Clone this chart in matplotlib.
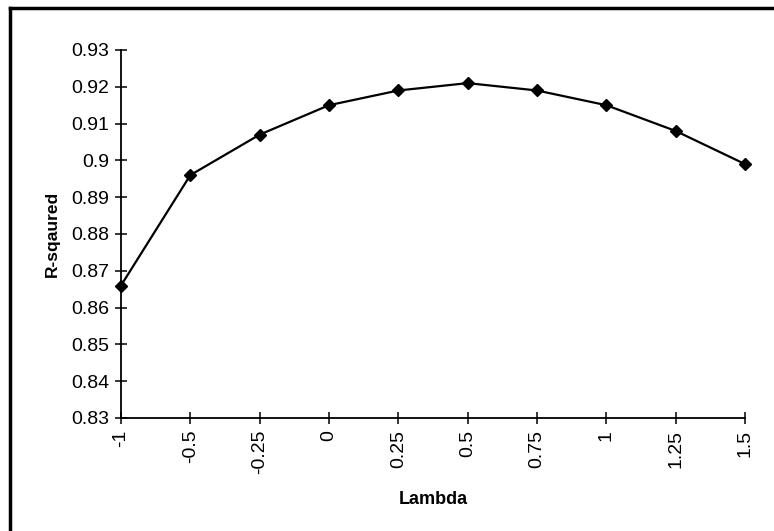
import matplotlib
matplotlib.use("Agg")
import matplotlib.pyplot as plt
from matplotlib.lines import Line2D

lambdas = ["-1", "-0.5", "-0.25", "0", "0.25", "0.5", "0.75", "1", "1.25", "1.5"]
r_squared = [0.866, 0.896, 0.907, 0.915, 0.919, 0.921, 0.919, 0.915, 0.908, 0.899]
y_ticks = [0.83, 0.84, 0.85, 0.86, 0.87, 0.88, 0.89, 0.90, 0.91, 0.92, 0.93]
y_labels = ["0.83", "0.84", "0.85", "0.86", "0.87", "0.88", "0.89", "0.9", "0.91", "0.92", "0.93"]

plt.rcParams['font.family'] = ['Liberation Sans', 'DejaVu Sans']

W, H = 774, 531
fig = plt.figure(figsize=(W / 100, H / 100), dpi=100)
ax = fig.add_axes([121 / W, 1 - 418 / H, (745 - 121) / W, (418 - 50) / H])

x = list(range(len(lambdas)))
ax.plot(x, r_squared, color="black", linewidth=1.6, marker="D", markersize=6, clip_on=False)

ax.set_xlim(0, len(lambdas) - 1)
ax.set_xticks(x)
ax.set_xticklabels(lambdas, rotation=90)
ax.set_ylim(0.83, 0.93)
ax.set_yticks(y_ticks)
ax.set_yticklabels(y_labels)

for s in ["top", "right"]:
    ax.spines[s].set_visible(False)
for s in ["left", "bottom"]:
    ax.spines[s].set_linewidth(1.3)

ax.tick_params(direction="inout", length=9, width=1.1, labelsize=14, pad=4)
ax.set_ylabel("R-sqaured", fontsize=12.5, fontweight="bold", labelpad=8)
ax.set_xlabel("Lambda", fontsize=13, fontweight="bold", labelpad=12)

# outer frame (left and top edges visible)
fig.add_artist(Line2D([10 / W, 10 / W], [0, 1 - 8 / H], transform=fig.transFigure, color="black", linewidth=2.5))
fig.add_artist(Line2D([10 / W, 1], [1 - 8 / H, 1 - 8 / H], transform=fig.transFigure, color="black", linewidth=2.5))

fig.savefig("out.png", dpi=100)
